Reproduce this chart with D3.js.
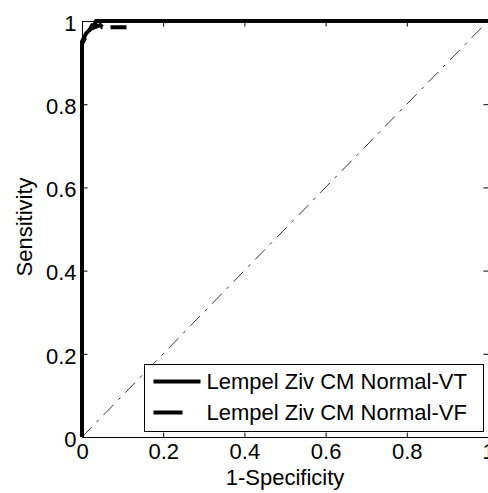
<!DOCTYPE html>
<html>
<head>
<meta charset="utf-8">
<title>ROC</title>
<script src="https://cdn.jsdelivr.net/npm/d3@7"></script>
<style>
  body { margin: 0; background: #fff; }
  text { font-family: Arial, "Liberation Sans", sans-serif; fill: #000; }
</style>
</head>
<body>
<script>
// ROC curves (1-specificity, sensitivity)
var vtFpr = [0, 0, 0.005, 0.01, 0.015, 0.02, 0.025, 0.03, 0.035, 1];
var vtTpr = [0, 0.95, 0.96, 0.97, 0.975, 0.98, 0.99, 0.99, 1, 1];
var vfFpr = [0, 0, 0.008, 0.012, 0.02, 0.03, 0.045, 0.05, 0.11, 0.11, 1];
var vfTpr = [0, 0.945, 0.96, 0.97, 0.98, 0.985, 0.99, 0.985, 0.985, 1, 1];
var seriesNames = ["Lempel Ziv CM Normal-VT", "Lempel Ziv CM Normal-VF"];
var tickValues = [0, 0.2, 0.4, 0.6, 0.8, 1];

var width = 488, height = 493, fontSize = 22;
var margins = {top: 21, left: 82, right: 0, bottom: 56};

var svg = d3.select("body").append("svg")
    .attr("width", width).attr("height", height);

var x = d3.scaleLinear().domain([0, 1]).range([margins.left, width - margins.right]);
var y = d3.scaleLinear().domain([0, 1]).range([height - margins.bottom, margins.top]);

function pairs(xs, ys) { return xs.map(function (v, i) { return [v, ys[i]]; }); }

// axes box
svg.append("rect")
    .attr("x", x(0) + 0.5).attr("y", y(1) + 0.5)
    .attr("width", x(1) - x(0)).attr("height", y(0) - y(1))
    .attr("fill", "none").attr("stroke", "#000").attr("stroke-width", 1);

var fmt = function (d) { return d === 0 || d === 1 ? String(d) : d.toFixed(1); };

// bottom axis, ticks inward
var xAxis = svg.append("g")
    .attr("transform", "translate(0," + (y(0) + 0.5) + ")")
    .call(d3.axisBottom(x).tickValues(tickValues).tickSize(-5).tickPadding(6).tickFormat(fmt));
xAxis.select(".domain").remove();
xAxis.selectAll("text").attr("font-size", fontSize).attr("dy", "0.71em");

// top ticks
svg.append("g")
    .attr("transform", "translate(0," + (y(1) + 0.5) + ")")
    .call(d3.axisTop(x).tickValues(tickValues).tickSize(-5).tickFormat(""))
    .select(".domain").remove();

var yAxis = svg.append("g")
    .attr("transform", "translate(" + (x(0) + 0.5) + ",0)")
    .call(d3.axisLeft(y).tickValues(tickValues).tickSize(-5).tickPadding(6).tickFormat(fmt));
yAxis.select(".domain").remove();
yAxis.selectAll("text").attr("font-size", fontSize).attr("dy", "0.42em");

svg.append("g")
    .attr("transform", "translate(" + (x(1) + 0.5) + ",0)")
    .call(d3.axisRight(y).tickValues(tickValues).tickSize(-5).tickFormat(""))
    .select(".domain").remove();

var line = d3.line().x(function (d) { return x(d[0]); }).y(function (d) { return y(d[1]); });

// chance diagonal
svg.append("path")
    .attr("d", line([[0, 0], [1, 1]]))
    .attr("fill", "none").attr("stroke", "#000").attr("stroke-width", 0.8)
    .attr("stroke-dasharray", "14,7,3,7");

svg.append("path")
    .attr("d", line(pairs(vfFpr, vfTpr)))
    .attr("fill", "none").attr("stroke", "#000").attr("stroke-width", 4)
    .attr("stroke-dasharray", "16,8");

svg.append("path")
    .attr("d", line(pairs(vtFpr, vtTpr)))
    .attr("fill", "none").attr("stroke", "#000").attr("stroke-width", 4);

// legend
var lg = svg.append("g").attr("transform", "translate(144.5,364.5)");
lg.append("rect").attr("width", 339).attr("height", 67)
    .attr("fill", "#fff").attr("stroke", "#000").attr("stroke-width", 1);
var dashes = [null, "29,20"];
seriesNames.forEach(function (name, i) {
    var yy = 17 + i * 31;
    lg.append("line").attr("x1", 9).attr("x2", 56).attr("y1", yy).attr("y2", yy)
        .attr("stroke", "#000").attr("stroke-width", 4)
        .attr("stroke-dasharray", dashes[i]);
    lg.append("text").attr("x", 62).attr("y", yy).attr("dy", "0.35em")
        .attr("font-size", fontSize).text(name);
});

// axis titles
svg.append("text").attr("x", (x(0) + x(1)) / 2).attr("y", 485)
    .attr("text-anchor", "middle").attr("font-size", fontSize).text("1-Specificity");
svg.append("text").attr("transform", "translate(32,227) rotate(-90)")
    .attr("text-anchor", "middle").attr("font-size", fontSize).text("Sensitivity");
</script>
</body>
</html>
